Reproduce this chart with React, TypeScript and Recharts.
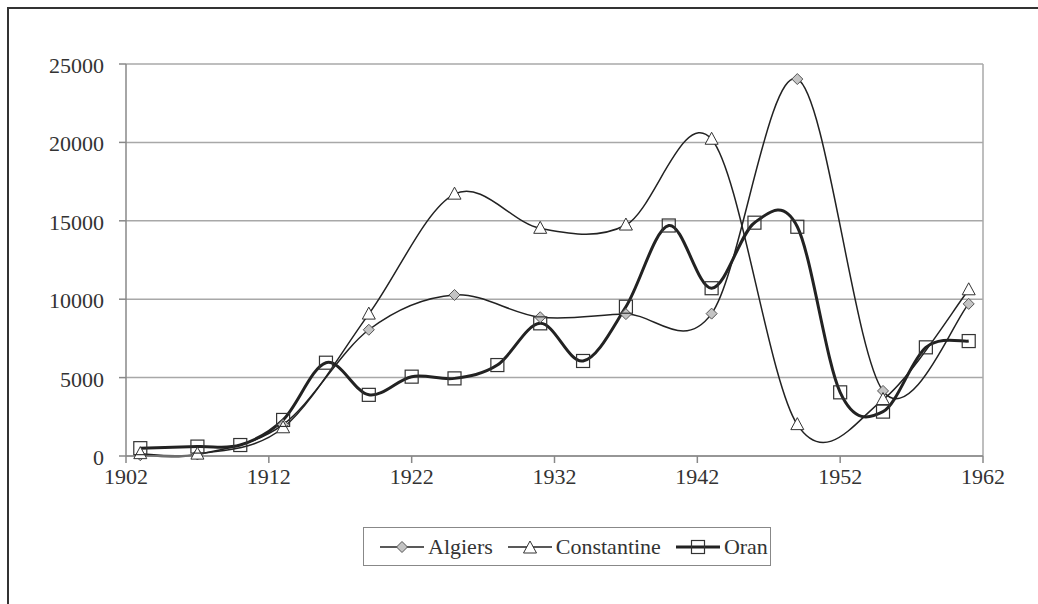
import React from 'react';
import { LineChart, Line, XAxis, YAxis, CartesianGrid, ReferenceLine } from 'recharts';

const algiersYears = [1903, 1907, 1913, 1919, 1925, 1931, 1937, 1943, 1949, 1955, 1961];
const algiersValues = [50, 100, 2000, 8050, 10270, 8850, 9050, 9080, 24040, 4150, 9700];

const constantineYears = [1903, 1907, 1913, 1919, 1925, 1931, 1937, 1943, 1949, 1955, 1961];
const constantineValues = [150, 120, 1800, 9050, 16700, 14520, 14730, 20200, 2000, 3600, 10600];

const oranYears = [1903, 1907, 1910, 1913, 1916, 1919, 1922, 1925, 1928, 1931, 1934, 1937, 1940, 1943, 1946, 1949, 1952, 1955, 1958, 1961];
const oranValues = [500, 600, 700, 2300, 5950, 3900, 5060, 4950, 5800, 8460, 6060, 9520, 14700, 10700, 14880, 14620, 4060, 2830, 6930, 7330];

const xTicks = [1902, 1912, 1922, 1932, 1942, 1952, 1962];
const yTicks = [0, 5000, 10000, 15000, 20000, 25000];

const toPoints = (years: number[], values: number[]) =>
  years.map((year, i) => ({ year, value: values[i] }));

const algiersData = toPoints(algiersYears, algiersValues);
const constantineData = toPoints(constantineYears, constantineValues);
const oranData = toPoints(oranYears, oranValues);

const FONT = '"Liberation Serif", "Times New Roman", serif';
const INK = '#222';
const TEXT = '#333';

// excel-style smoothing (catmull-rom through every point)
const smoothCurve: any = (context: any) => {
  let pts: number[][] = [];
  return {
    areaStart() {},
    areaEnd() {},
    lineStart() {
      pts = [];
    },
    point(x: number, y: number) {
      pts.push([+x, +y]);
    },
    lineEnd() {
      const n = pts.length;
      if (!n) return;
      context.moveTo(pts[0][0], pts[0][1]);
      for (let i = 0; i < n - 1; i++) {
        const p0 = pts[i - 1] || pts[i];
        const p1 = pts[i];
        const p2 = pts[i + 1];
        const p3 = pts[i + 2] || p2;
        context.bezierCurveTo(
          p1[0] + (p2[0] - p0[0]) / 6,
          p1[1] + (p2[1] - p0[1]) / 6,
          p2[0] - (p3[0] - p1[0]) / 6,
          p2[1] - (p3[1] - p1[1]) / 6,
          p2[0],
          p2[1],
        );
      }
    },
  };
};

const Diamond = ({ cx, cy }: any) => (
  <path d={`M${cx},${cy - 5.5}L${cx + 5.5},${cy}L${cx},${cy + 5.5}L${cx - 5.5},${cy}Z`} fill="#c4c4c4" stroke="#555" strokeWidth={1} />
);

const Triangle = ({ cx, cy }: any) => (
  <path d={`M${cx},${cy - 7}L${cx + 6.5},${cy + 5}L${cx - 6.5},${cy + 5}Z`} fill="#fff" stroke="#333" strokeWidth={1} />
);

const Square = ({ cx, cy }: any) => (
  <rect x={cx - 6.5} y={cy - 6.5} width={13} height={13} fill="none" stroke="#333" strokeWidth={1.2} />
);

const LegendItem = ({ label, marker, thick }: { label: string; marker: 'diamond' | 'triangle' | 'square'; thick?: boolean }) => (
  <span style={{ display: 'inline-flex', alignItems: 'center', marginRight: 15 }}>
    <svg width={44} height={20} style={{ marginRight: 4 }}>
      <line x1={0} y1={10} x2={44} y2={10} stroke={INK} strokeWidth={thick ? 3 : 1.5} />
      {marker === 'diamond' && <Diamond cx={22} cy={10} />}
      {marker === 'triangle' && <Triangle cx={22} cy={11} />}
      {marker === 'square' && <Square cx={22} cy={10} />}
    </svg>
    <span>{label}</span>
  </span>
);

const YTick = ({ x, y, payload }: any) => (
  <text x={x} y={y} dy={9} textAnchor="end" fontSize={22} fill={TEXT} fontFamily={FONT}>
    {payload.value}
  </text>
);

const XTick = ({ x, y, payload }: any) => (
  <text x={x} y={y} dy={15} textAnchor="middle" fontSize={22} fill={TEXT} fontFamily={FONT}>
    {payload.value}
  </text>
);

export default function App() {
  return (
    <div style={{ position: 'absolute', left: 0, top: 0, width: 1038, height: 604, background: '#fff', overflow: 'hidden', fontFamily: FONT }}>
      <div style={{ position: 'absolute', left: 7, top: 7, width: 1200, height: 800, borderTop: '2px solid #333', borderLeft: '2px solid #333' }} />
      <div style={{ position: 'absolute', left: 0, top: 0 }}>
        <LineChart width={1038} height={604} margin={{ top: 64, right: 55, left: 0, bottom: 118 }}>
          <CartesianGrid vertical={false} stroke="#a8a8a8" strokeWidth={1.5} />
          <ReferenceLine x={1962} stroke="#a8a8a8" strokeWidth={1.5} />
          <XAxis
            dataKey="year"
            type="number"
            domain={[1902, 1962]}
            ticks={xTicks}
            allowDataOverflow
            height={30}
            tickSize={7}
            tickMargin={6}
            stroke="#888"
            strokeWidth={1.5}
            tick={<XTick />}
          />
          <YAxis
            type="number"
            domain={[0, 25000]}
            ticks={yTicks}
            width={126}
            tickSize={7}
            tickMargin={15}
            stroke="#888"
            strokeWidth={1.5}
            tick={<YTick />}
          />
          <Line data={algiersData} dataKey="value" name="Algiers" type={smoothCurve} stroke={INK} strokeWidth={1.5} dot={(p: any) => <Diamond key={p.index} cx={p.cx} cy={p.cy} />} isAnimationActive={false} />
          <Line data={constantineData} dataKey="value" name="Constantine" type={smoothCurve} stroke={INK} strokeWidth={1.5} dot={(p: any) => <Triangle key={p.index} cx={p.cx} cy={p.cy} />} isAnimationActive={false} />
          <Line data={oranData} dataKey="value" name="Oran" type={smoothCurve} stroke={INK} strokeWidth={3} dot={(p: any) => <Square key={p.index} cx={p.cx} cy={p.cy} />} isAnimationActive={false} />
        </LineChart>
      </div>
      <div
        style={{
          position: 'absolute',
          left: 363,
          top: 527,
          width: 408,
          height: 39,
          boxSizing: 'border-box',
          border: '1px solid #888',
          display: 'flex',
          alignItems: 'center',
          justifyContent: 'flex-start',
          fontSize: 22,
          color: TEXT,
          paddingLeft: 16,
          whiteSpace: 'nowrap',
        }}
      >
        <LegendItem label="Algiers" marker="diamond" />
        <LegendItem label="Constantine" marker="triangle" />
        <LegendItem label="Oran" marker="square" thick />
      </div>
    </div>
  );
}
